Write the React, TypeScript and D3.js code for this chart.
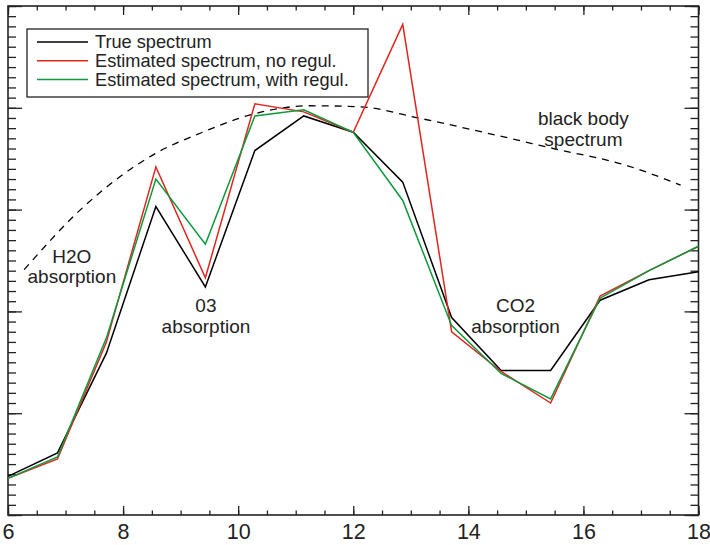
import { useEffect, useRef } from 'react';
import * as d3 from 'd3';

// wavelength samples (x axis)
const wavelengths = [6, 6.86, 7.71, 8.57, 9.43, 10.29, 11.14, 12, 12.86, 13.71, 14.57, 15.43, 16.29, 17.14, 18];
const trueSpectrum = [0.38, 0.61, 1.59, 3.03, 2.24, 3.58, 3.92, 3.76, 3.27, 1.94, 1.42, 1.42, 2.11, 2.31, 2.39];
const noRegul = [0.36, 0.55, 1.7, 3.42, 2.33, 4.04, 3.96, 3.76, 4.82, 1.8, 1.41, 1.1, 2.15, 2.4, 2.64];
const withRegul = [0.36, 0.57, 1.74, 3.3, 2.66, 3.92, 3.98, 3.76, 3.09, 1.86, 1.39, 1.14, 2.13, 2.4, 2.64];

const blackBodyX = [6.28, 7.3, 8.59, 9.34, 10.21, 11.25, 12.12, 13.13, 14.26, 15.48, 16.77, 17.69];
const blackBodyY = [2.41, 3.02, 3.56, 3.75, 3.93, 4.02, 4.01, 3.9, 3.76, 3.6, 3.43, 3.24];

const xTicks = [6, 8, 10, 12, 14, 16, 18];
const yTicks = [0, 1, 2, 3, 4, 5];

const legendLabels = ['True spectrum', 'Estimated spectrum, no regul.', 'Estimated spectrum, with regul.'];
const seriesColors = ['#000000', '#e2261f', '#0b9a3c'];

const annotations = [
  { x: 7.11, lines: ['H2O', 'absorption'], base: 2.48 },
  { x: 9.44, lines: ['03', 'absorption'], base: 1.99 },
  { x: 14.82, lines: ['CO2', 'absorption'], base: 1.99 },
  { x: 16.0, lines: ['black body', 'spectrum'], base: 3.83 },
];

const FONT = '"Liberation Sans", Arial, Helvetica, sans-serif';

const App = () => {
  const ref = useRef<SVGSVGElement>(null!);

  useEffect(() => {
    const width = 710;
    const height = 545;
    const m = { left: 8, right: 11.5, top: 6, bottom: 30 };
    const svg = d3.select(ref.current);
    svg.attr('width', width).attr('height', height);

    const x = d3.scaleLinear().domain([6, 18]).range([m.left, width - m.right]);
    const y = d3.scaleLinear().domain([0, 5]).range([height - m.bottom, m.top]);
    const ink = '#222';

    const axisStyle = (g: d3.Selection<SVGGElement, unknown, null, undefined>) => {
      g.select('.domain').remove();
      g.selectAll('line').attr('stroke', ink).attr('stroke-width', 1.3);
    };

    const xMinor = d3.range(6, 18.001, 0.5);
    const yMinor = d3.range(0, 5.001, 0.1);

    // bottom
    svg.append('g').attr('transform', `translate(0,${y(0)})`)
      .call(d3.axisBottom(x).tickValues(xMinor).tickSize(-4.5).tickFormat(() => ''))
      .call(axisStyle);
    svg.append('g').attr('transform', `translate(0,${y(0)})`)
      .call(d3.axisBottom(x).tickValues(xTicks).tickSize(-9).tickPadding(0).tickFormat(d3.format('d')))
      .call(axisStyle)
      .selectAll('text')
      .attr('y', 24)
      .attr('dy', 0)
      .attr('fill', ink)
      .attr('font-family', FONT)
      .attr('font-size', 21.5);
    // top
    svg.append('g').attr('transform', `translate(0,${y(5)})`)
      .call(d3.axisTop(x).tickValues(xMinor).tickSize(-4.5).tickFormat(() => ''))
      .call(axisStyle);
    svg.append('g').attr('transform', `translate(0,${y(5)})`)
      .call(d3.axisTop(x).tickValues(xTicks).tickSize(-9).tickFormat(() => ''))
      .call(axisStyle);
    // left
    svg.append('g').attr('transform', `translate(${x(6)},0)`)
      .call(d3.axisLeft(y).tickValues(yMinor).tickSize(-8).tickFormat(() => ''))
      .call(axisStyle);
    svg.append('g').attr('transform', `translate(${x(6)},0)`)
      .call(d3.axisLeft(y).tickValues(yTicks).tickSize(-14).tickFormat(() => ''))
      .call(axisStyle);
    // right
    svg.append('g').attr('transform', `translate(${x(18)},0)`)
      .call(d3.axisRight(y).tickValues(yMinor).tickSize(-8).tickFormat(() => ''))
      .call(axisStyle);
    svg.append('g').attr('transform', `translate(${x(18)},0)`)
      .call(d3.axisRight(y).tickValues(yTicks).tickSize(-14).tickFormat(() => ''))
      .call(axisStyle);

    svg.append('rect')
      .attr('x', x(6)).attr('y', y(5))
      .attr('width', x(18) - x(6)).attr('height', y(0) - y(5))
      .attr('fill', 'none').attr('stroke', ink).attr('stroke-width', 1.6);

    // black body curve
    const bbLine = d3.line<number>()
      .x((_, i) => x(blackBodyX[i]))
      .y(d => y(d))
      .curve(d3.curveMonotoneX);
    svg.append('path')
      .attr('d', bbLine(blackBodyY))
      .attr('fill', 'none')
      .attr('stroke', '#000')
      .attr('stroke-width', 1.3)
      .attr('stroke-dasharray', '7,6');

    const line = d3.line<number>()
      .x((_, i) => x(wavelengths[i]))
      .y(d => y(d));
    [trueSpectrum, noRegul, withRegul].forEach((s, k) => {
      svg.append('path')
        .attr('d', line(s))
        .attr('fill', 'none')
        .attr('stroke', seriesColors[k])
        .attr('stroke-width', 1.5)
        .attr('stroke-linejoin', 'miter');
    });

    // annotations
    annotations.forEach(a => {
      a.lines.forEach((t, i) => {
        svg.append('text')
          .attr('x', x(a.x))
          .attr('y', y(a.base) + i * 20.5)
          .attr('text-anchor', 'middle')
          .attr('font-family', FONT)
          .attr('font-size', 19)
          .attr('fill', ink)
          .text(t);
      });
    });

    // legend
    const lg = svg.append('g').attr('transform', 'translate(27,29)');
    lg.append('rect')
      .attr('width', 341).attr('height', 68)
      .attr('fill', '#fff').attr('stroke', ink).attr('stroke-width', 1.3);
    legendLabels.forEach((label, i) => {
      const cy = 13 + i * 18.8;
      lg.append('line')
        .attr('x1', 10).attr('x2', 61)
        .attr('y1', cy).attr('y2', cy)
        .attr('stroke', seriesColors[i]).attr('stroke-width', 1.5);
      lg.append('text')
        .attr('x', 68).attr('y', cy + 6.3)
        .attr('font-family', FONT)
        .attr('font-size', 18.2)
        .attr('fill', ink)
        .text(label);
    });

    return () => {
      ref.current.innerHTML = '';
    };
  }, []);

  return <svg ref={ref} style={{ position: 'absolute', left: 0, top: 0 }}></svg>;
};

export default App;
